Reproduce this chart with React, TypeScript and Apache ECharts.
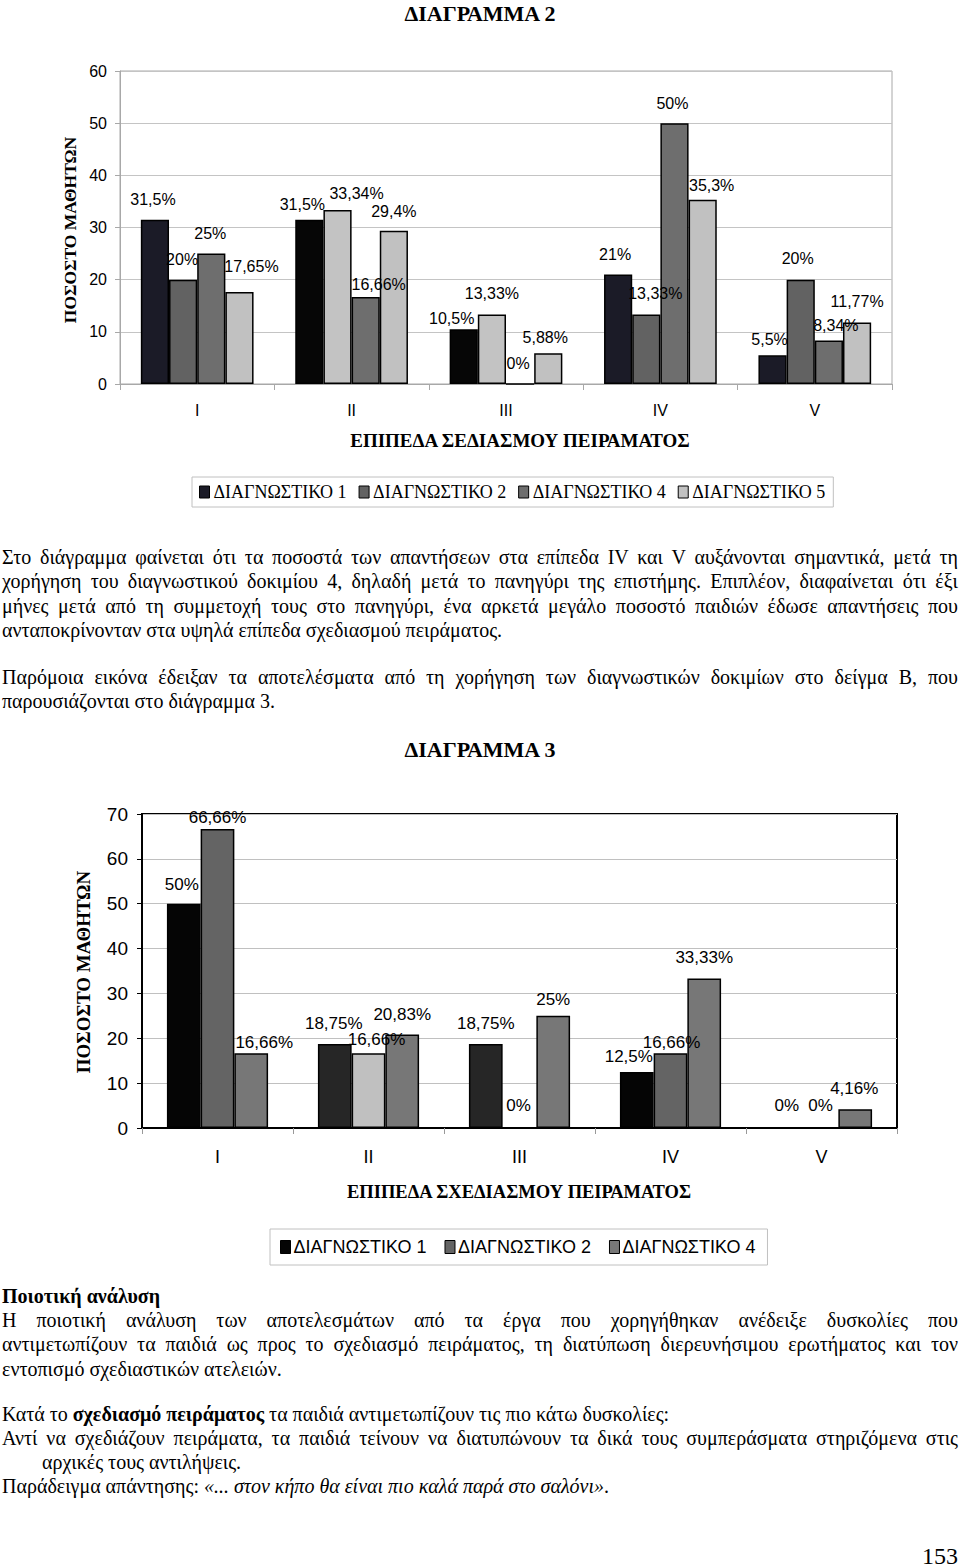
import React, { useEffect, useRef } from "react";
import * as echarts from "echarts";

// ---------- DATA ----------
const CATEGORIES = ["I", "II", "III", "IV", "V"];
const Y1_MIN = 0, Y1_MAX = 60, Y1_STEP = 10;
const Y2_MIN = 0, Y2_MAX = 70, Y2_STEP = 10;

const C1_NAMES = ["ΔΙΑΓΝΩΣΤΙΚΟ 1", "ΔΙΑΓΝΩΣΤΙΚΟ 2", "ΔΙΑΓΝΩΣΤΙΚΟ 4", "ΔΙΑΓΝΩΣΤΙΚΟ 5"];
const C1_D1 = [31.5, 31.5, 10.5, 21, 5.5];
const C1_D2 = [20, 33.34, 13.33, 13.33, 20];
const C1_D4 = [25, 16.66, 0, 50, 8.34];
const C1_D5 = [17.65, 29.4, 5.88, 35.3, 11.77];

const C2_NAMES = ["ΔΙΑΓΝΩΣΤΙΚΟ 1", "ΔΙΑΓΝΩΣΤΙΚΟ 2", "ΔΙΑΓΝΩΣΤΙΚΟ 4"];
const C2_D1 = [50, 18.75, 18.75, 12.5, 0];
const C2_D2 = [66.66, 16.66, 0, 16.66, 0];
const C2_D4 = [16.66, 20.83, 25, 33.33, 4.16];

// ---------- STYLES (per-point fills as printed) ----------
const C1_MAIN = ["#1b1b27", "#626262", "#6e6e6e", "#c1c1c1"];
const C1_FILLS = [
  ["#1b1b27", "#060606", "#060606", "#1b1b27", "#1b1b27"],
  ["#626262", "#c3c3c3", "#c3c3c3", "#626262", "#626262"],
  ["#6e6e6e", "#6e6e6e", "#6e6e6e", "#6e6e6e", "#6e6e6e"],
  ["#c1c1c1", "#c1c1c1", "#c1c1c1", "#c1c1c1", "#c1c1c1"],
];
const C2_MAIN = ["#050505", "#646464", "#777777"];
const C2_FILLS = [
  ["#050505", "#262626", "#262626", "#050505", "#050505"],
  ["#646464", "#c0c0c0", "#646464", "#646464", "#646464"],
  ["#777777", "#777777", "#777777", "#777777", "#777777"],
];

// label nudges [dx, dy] in px, as placed in the printed chart
const C1_LABEL_NUDGE = [
  [[-2, 0], [-7, 5], [-12, 9], [-3, 0], [-3, 4]],
  [[-1, 0], [19, 3], [0, -1], [9, -1], [-3, -1]],
  [[-1, 0], [13, 7], [-2, 0], [-2, 0], [7, 5]],
  [[12, -5], [0, 1], [-3, 4], [9, 6], [0, -1]],
];
const C2_LABEL_NUDGE = [
  [[-2, 1], [-1, 0], [0, 0], [-8, 5], [-1, -1]],
  [[0, 9], [8, 7], [-1, -1], [1, 10], [-1, -1]],
  [[13, 10], [0, 0], [0, 4], [0, 0], [-1, 0]],
];

const SANS = "'Liberation Sans', Arial, sans-serif";
const SERIF = "'Liberation Serif', 'Times New Roman', serif";

const fmt = (v: number) => String(v).replace(".", ",") + "%";

function makeSeries(names: string[], values: number[][], mains: string[], fills: string[][], nudges: number[][][], labelSize: number, labelDist: number, catGap: string) {
  return names.map((name, si) => ({
    type: "bar",
    name,
    barGap: "0%",
    barCategoryGap: catGap,
    itemStyle: { color: mains[si], borderColor: "#000", borderWidth: 1.5 },
    label: {
      show: true,
      position: "top",
      distance: labelDist,
      color: "#000",
      fontFamily: SANS,
      fontSize: labelSize,
      formatter: (p: any) => fmt(p.value),
    },
    data: values[si].map((v, i) => ({
      value: v,
      itemStyle: { color: fills[si][i] },
      label: { offset: nudges[si][i] },
    })),
  }));
}

// ---------- TEXT ----------
type Line = { y: number; parts: { t: string; b?: boolean; i?: boolean }[]; justify?: boolean; indent?: number };
const TEXT_LINES: Line[] = [
  { y: 557, justify: true, parts: [{ t: "Στο διάγραμμα φαίνεται ότι τα ποσοστά των απαντήσεων στα επίπεδα IV και V αυξάνονται σημαντικά, μετά τη" }] },
  { y: 581, justify: true, parts: [{ t: "χορήγηση του διαγνωστικού δοκιμίου 4, δηλαδή μετά το πανηγύρι της επιστήμης. Επιπλέον, διαφαίνεται ότι έξι" }] },
  { y: 606, justify: true, parts: [{ t: "μήνες μετά από τη συμμετοχή τους στο πανηγύρι, ένα αρκετά μεγάλο ποσοστό παιδιών έδωσε απαντήσεις που" }] },
  { y: 630, parts: [{ t: "ανταποκρίνονταν στα υψηλά επίπεδα σχεδιασμού πειράματος." }] },
  { y: 677, justify: true, parts: [{ t: "Παρόμοια εικόνα έδειξαν τα αποτελέσματα από τη χορήγηση των διαγνωστικών δοκιμίων στο δείγμα Β, που" }] },
  { y: 701, parts: [{ t: "παρουσιάζονται στο διάγραμμα 3." }] },
  { y: 1296, parts: [{ t: "Ποιοτική ανάλυση", b: true }] },
  { y: 1320, justify: true, parts: [{ t: "Η ποιοτική ανάλυση των αποτελεσμάτων από τα έργα που χορηγήθηκαν ανέδειξε δυσκολίες που" }] },
  { y: 1344, justify: true, parts: [{ t: "αντιμετωπίζουν τα παιδιά ως προς το σχεδιασμό πειράματος, τη διατύπωση διερευνήσιμου ερωτήματος και τον" }] },
  { y: 1369, parts: [{ t: "εντοπισμό σχεδιαστικών ατελειών." }] },
  { y: 1414, parts: [{ t: "Κατά το " }, { t: "σχεδιασμό πειράματος", b: true }, { t: " τα παιδιά αντιμετωπίζουν τις πιο κάτω δυσκολίες:" }] },
  { y: 1438, justify: true, parts: [{ t: "Αντί να σχεδιάζουν πειράματα, τα παιδιά τείνουν να διατυπώνουν τα δικά τους συμπεράσματα στηριζόμενα στις" }] },
  { y: 1462, indent: 40, parts: [{ t: "αρχικές τους αντιλήψεις." }] },
  { y: 1486, parts: [{ t: "Παράδειγμα απάντησης: " }, { t: "«... στον κήπο θα είναι πιο καλά παρά στο σαλόνι»", i: true }, { t: "." }] },
];

function chart1Option() {
  return {
    animation: false,
    grid: { left: 120, top: 71, right: 68, bottom: 136, show: true, borderColor: "#a8a8a8", borderWidth: 1 },
    xAxis: {
      type: "category",
      data: CATEGORIES,
      axisLine: { lineStyle: { color: "#a8a8a8", width: 1 } },
      axisTick: { show: true, length: 6, lineStyle: { color: "#a8a8a8" } },
      axisLabel: { fontFamily: SANS, fontSize: 16, color: "#000", margin: 18 },
    },
    yAxis: {
      type: "value",
      min: Y1_MIN,
      max: Y1_MAX,
      interval: Y1_STEP,
      axisLine: { show: true, lineStyle: { color: "#a8a8a8" } },
      axisTick: { show: true, length: 5, lineStyle: { color: "#a8a8a8" } },
      axisLabel: { fontFamily: SANS, fontSize: 16, color: "#000", margin: 13 },
      splitLine: { lineStyle: { color: "#c4c4c4" } },
    },
    legend: {
      left: 192,
      top: 477,
      padding: [6, 8, 6, 7],
      borderColor: "#c0c0c0",
      borderWidth: 1,
      itemGap: 12,
      itemWidth: 10,
      itemHeight: 12,
      icon: "rect",
      itemStyle: { borderColor: "#000", borderWidth: 1 },
      textStyle: { fontFamily: SERIF, fontSize: 18, color: "#000", padding: [0, 0, 0, -1] },
      data: C1_NAMES,
    },
    series: makeSeries(C1_NAMES, [C1_D1, C1_D2, C1_D4, C1_D5], C1_MAIN, C1_FILLS, C1_LABEL_NUDGE, 16, 12, "27%"),
    graphic: [
      { type: "text", x: 480, y: 13, style: { text: "ΔΙΑΓΡΑΜΜΑ 2", font: `bold 22px ${SERIF}`, fill: "#000", align: "center", verticalAlign: "middle" } },
      { type: "text", x: 70, y: 230, rotation: Math.PI / 2, style: { text: "ΠΟΣΟΣΤΟ ΜΑΘΗΤΩΝ", font: `bold 17.5px ${SERIF}`, fill: "#000", align: "center", verticalAlign: "middle" } },
      { type: "text", x: 520, y: 440, style: { text: "ΕΠΙΠΕΔΑ ΣΕΔΙΑΣΜΟΥ ΠΕΙΡΑΜΑΤΟΣ", font: `bold 19px ${SERIF}`, fill: "#000", align: "center", verticalAlign: "middle" } },
    ],
  };
}

function chart2Option() {
  return {
    animation: false,
    grid: { left: 142, top: 84, right: 63, bottom: 162, show: true, borderColor: "#000", borderWidth: 2 },
    xAxis: {
      type: "category",
      data: CATEGORIES,
      axisLine: { lineStyle: { color: "#000", width: 2 } },
      axisTick: { show: true, length: 6, lineStyle: { color: "#999" } },
      axisLabel: { fontFamily: SANS, fontSize: 18, color: "#000", margin: 20 },
    },
    yAxis: {
      type: "value",
      min: Y2_MIN,
      max: Y2_MAX,
      interval: Y2_STEP,
      axisLine: { show: true, lineStyle: { color: "#000", width: 2 } },
      axisTick: { show: true, length: 5, lineStyle: { color: "#000" } },
      axisLabel: { fontFamily: SANS, fontSize: 19, color: "#000", margin: 14 },
      splitLine: { lineStyle: { color: "#c0c0c0" } },
    },
    legend: {
      left: 270,
      top: 499,
      padding: [9, 12, 9, 10],
      borderColor: "#c0c0c0",
      borderWidth: 1,
      itemGap: 18,
      itemWidth: 10,
      itemHeight: 13,
      icon: "rect",
      itemStyle: { borderColor: "#000", borderWidth: 1 },
      textStyle: { fontFamily: SANS, fontSize: 18, color: "#000", padding: [0, 0, 0, -2] },
      data: C2_NAMES,
    },
    series: makeSeries(C2_NAMES, [C2_D1, C2_D2, C2_D4], C2_MAIN, C2_FILLS, C2_LABEL_NUDGE, 17, 12, "33%"),
    graphic: [
      { type: "text", x: 480, y: 19, style: { text: "ΔΙΑΓΡΑΜΜΑ 3", font: `bold 22px ${SERIF}`, fill: "#000", align: "center", verticalAlign: "middle" } },
      { type: "text", x: 83, y: 242, rotation: Math.PI / 2, style: { text: "ΠΟΣΟΣΤΟ ΜΑΘΗΤΩΝ", font: `bold 19px ${SERIF}`, fill: "#000", align: "center", verticalAlign: "middle" } },
      { type: "text", x: 519, y: 462, style: { text: "ΕΠΙΠΕΔΑ ΣΧΕΔΙΑΣΜΟΥ ΠΕΙΡΑΜΑΤΟΣ", font: `bold 18.5px ${SERIF}`, fill: "#000", align: "center", verticalAlign: "middle" } },
    ],
  };
}

export default function App() {
  const ref1 = useRef<HTMLDivElement>(null);
  const ref2 = useRef<HTMLDivElement>(null);

  useEffect(() => {
    const c1 = echarts.init(ref1.current!, undefined, { renderer: "svg" });
    c1.setOption(chart1Option() as any);
    const c2 = echarts.init(ref2.current!, undefined, { renderer: "svg" });
    c2.setOption(chart2Option() as any);
    return () => {
      c1.dispose();
      c2.dispose();
    };
  }, []);

  const LH = 24;
  return (
    <div style={{ position: "absolute", left: 0, top: 0, width: 960, height: 1568, background: "#fff", overflow: "hidden" }}>
      <div ref={ref1} style={{ position: "absolute", left: 0, top: 0, width: 960, height: 520 }} />
      <div ref={ref2} style={{ position: "absolute", left: 0, top: 730, width: 960, height: 560 }} />
      {TEXT_LINES.map((ln, k) => (
        <div
          key={k}
          style={{
            position: "absolute",
            left: 2 + (ln.indent || 0),
            width: 956 - (ln.indent || 0),
            top: ln.y - LH / 2,
            height: LH,
            lineHeight: LH + "px",
            fontFamily: SERIF,
            fontSize: 20,
            color: "#000",
            whiteSpace: "nowrap",
            textAlign: ln.justify ? "justify" : "left",
            textAlignLast: ln.justify ? "justify" : "left",
          } as any}
        >
          {ln.parts.map((p, j) => (
            <span key={j} style={{ fontWeight: p.b ? "bold" : "normal", fontStyle: p.i ? "italic" : "normal" }}>{p.t}</span>
          ))}
        </div>
      ))}
      <div style={{ position: "absolute", right: 2, top: 1542, fontFamily: SERIF, fontSize: 24, lineHeight: "28px", color: "#000" }}>153</div>
    </div>
  );
}
